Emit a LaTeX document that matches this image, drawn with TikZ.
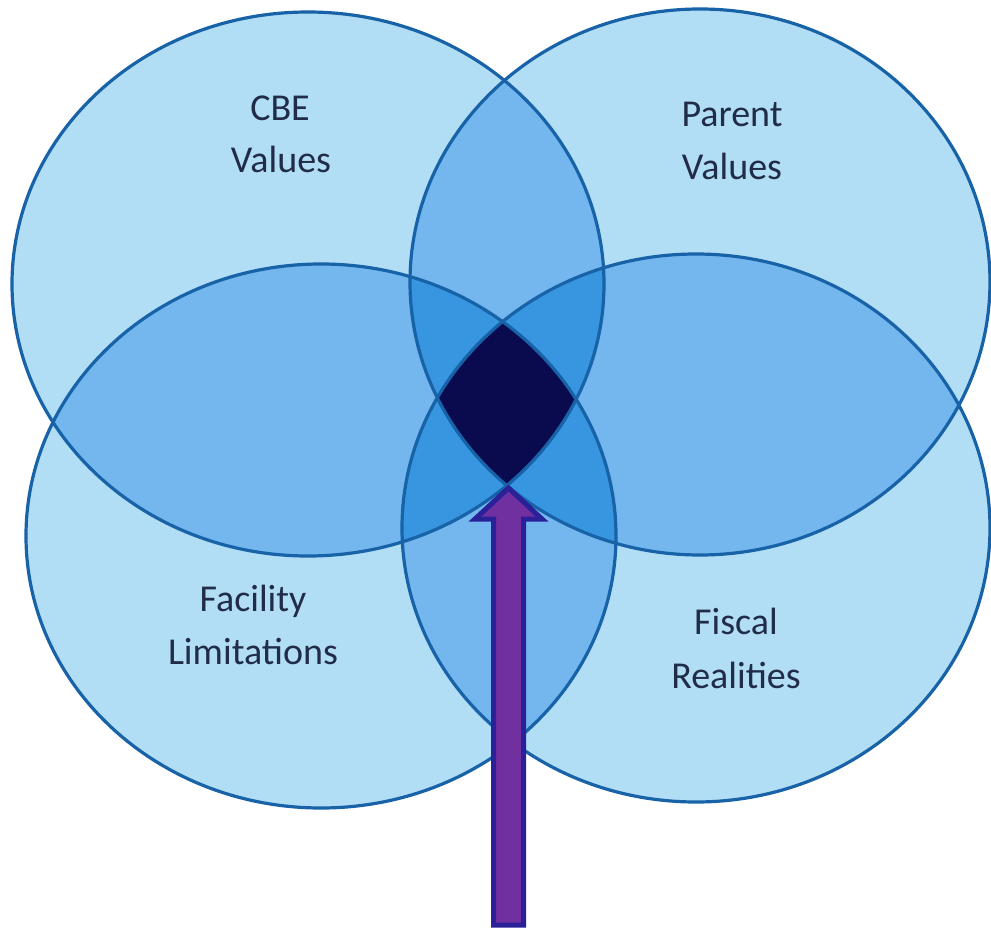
\documentclass[tikz,border=0pt]{standalone}
\usepackage{fontspec}
\setmainfont{Carlito}
\definecolor{cOne}{RGB}{178,222,245}
\definecolor{cTwo}{RGB}{115,183,238}
\definecolor{cThree}{RGB}{56,150,225}
\definecolor{cFour}{RGB}{10,10,78}
\definecolor{cEdge}{RGB}{24,98,168}
\definecolor{txt}{RGB}{32,44,72}
\definecolor{arrFill}{RGB}{112,48,160}
\definecolor{arrEdge}{RGB}{42,32,152}
\begin{document}
\begin{tikzpicture}[x=1pt,y=-1pt,
  lbl/.style={font=\fontsize{38}{46}\selectfont, text=txt, inner sep=0pt, anchor=base},
  edge/.style={draw=cEdge, line width=3.2pt},
  bigarrow/.style={fill=arrFill, draw=arrEdge, line width=5pt, line join=miter}]
\def\eA{(308,284) ellipse [x radius=296pt, y radius=272pt]}
\def\eB{(700,282) ellipse [x radius=290pt, y radius=273pt]}
\def\eC{(321,536) ellipse [x radius=295pt, y radius=272pt]}
\def\eD{(696,528) ellipse [x radius=294pt, y radius=274pt]}
\useasboundingbox (0,0) rectangle (991,928);
\clip (0,0) rectangle (991,928);
\fill[white] (0,0) rectangle (991,928);
% single regions
\fill[cOne] \eA;
\fill[cOne] \eB;
\fill[cOne] \eC;
\fill[cOne] \eD;
% pairs
\begin{scope}\clip \eA; \fill[cTwo] \eB; \fill[cTwo] \eC; \fill[cTwo] \eD; \end{scope}
\begin{scope}\clip \eB; \fill[cTwo] \eC; \fill[cTwo] \eD; \end{scope}
\begin{scope}\clip \eC; \fill[cTwo] \eD; \end{scope}
% triples
\begin{scope}\clip \eA; \clip \eB; \fill[cThree] \eC; \fill[cThree] \eD; \end{scope}
\begin{scope}\clip \eA; \clip \eC; \fill[cThree] \eD; \end{scope}
\begin{scope}\clip \eB; \clip \eC; \fill[cThree] \eD; \end{scope}
% all four
\begin{scope}\clip \eA; \clip \eB; \clip \eC; \fill[cFour] \eD; \end{scope}
% outlines
\draw[edge] \eA;
\draw[edge] \eB;
\draw[edge] \eC;
\draw[edge] \eD;
% labels
\node[lbl] (cbe1) at (280,121) {CBE};
\node[lbl] (cbe2) at (281,173) {Values};
\node[lbl] (par1) at (732,127) {Parent};
\node[lbl] (par2) at (732,180) {Values};
\node[lbl] (fac1) at (253,611) {Facility};
\node[lbl] (fac2) at (253,664) {Limitations};
\node[lbl] (fis1) at (736,634) {Fiscal};
\node[lbl] (fis2) at (736,688) {Realities};
% arrow
\coordinate (tip) at (508.5,488);
\draw[bigarrow] (tip) -- (542,519) -- (523.5,519) -- (523.5,925) -- (493.5,925) -- (493.5,519) -- (475,519) -- cycle;
\end{tikzpicture}
\end{document}
